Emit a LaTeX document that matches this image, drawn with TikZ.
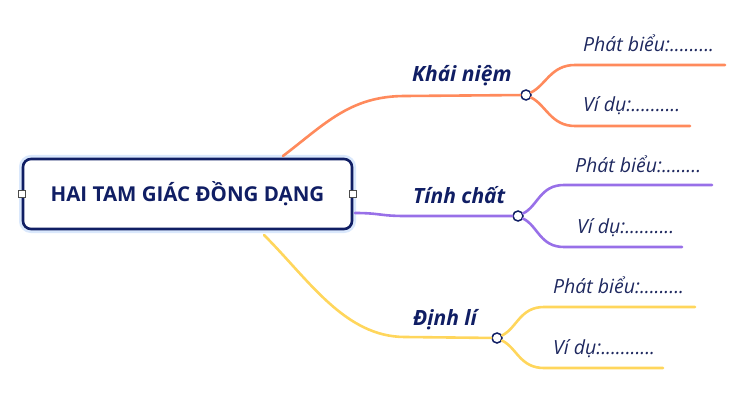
\documentclass[tikz,border=0pt]{standalone}
\usepackage{fontspec}
\setmainfont{Open Sans}
\usetikzlibrary{positioning}
\definecolor{mynavy}{RGB}{16,30,100}
\definecolor{mytext}{RGB}{30,40,95}
\definecolor{myorange}{RGB}{255,138,92}
\definecolor{mypurple}{RGB}{152,112,232}
\definecolor{myyellow}{RGB}{255,214,92}
\definecolor{myglow}{RGB}{218,232,252}

\begin{document}
\begin{tikzpicture}[x=1pt, y=-1pt]
    \tikzstyle{rootbox}=[draw=mynavy, line width=2.6pt, rounded corners=8pt, fill=white, minimum width=329pt, minimum height=70pt, text=mynavy, font=\fontsize{20.5}{24}\selectfont\bfseries, preaction={draw=myglow, line width=8pt}]
    \tikzstyle{handle}=[draw=gray!60!black, fill=white, minimum size=7pt, inner sep=0pt, line width=1pt]
    \tikzstyle{dot}=[circle, draw=mynavy, fill=white, minimum size=10pt, inner sep=0pt, line width=1.5pt]
    \tikzstyle{branch}=[line width=2.6pt, line cap=round]
    \tikzstyle{topic}=[anchor=base west, inner sep=0pt, text=mynavy, font=\fontsize{21}{24}\selectfont\bfseries\itshape]
    \tikzstyle{leaf}=[anchor=base west, inner sep=0pt, text=mytext, font=\fontsize{19.5}{22}\selectfont\itshape]
    \useasboundingbox (0,0) rectangle (755,409);

    % root
    \node[rootbox] (root) at (187.5,194) {HAI TAM GIÁC ĐỒNG DẠNG};
    \node[handle] (hl) at (root.west) {};
    \node[handle] (hr) at (root.east) {};

    % topics
    \node[dot] (kdot) at (526,95) {};
    \node[dot] (tdot) at (518,216) {};
    \node[dot] (ddot) at (497,338) {};
    \node[topic] (kn) at (412,82) {Khái niệm};
    \node[topic] (tc) at (413,203) {Tính chất};
    \node[topic] (dl) at (413,325) {Định lí};

    % leaves
    \node[leaf] (kpb) at (583,52) {Phát biểu:.........};
    \node[leaf] (kvd) at (583,112) {Ví dụ:..........};
    \node[leaf] (tpb) at (575,172) {Phát biểu:........};
    \node[leaf] (tvd) at (577,233) {Ví dụ:..........};
    \node[leaf] (dpb) at (553,293) {Phát biểu:.........};
    \node[leaf] (dvd) at (553,354) {Ví dụ:...........};

    % khai niem
    \coordinate (k0) at (283,156);
    \coordinate (k1) at (405,96);
    \coordinate (ka) at (575,65);  \coordinate (kae) at (725,65);
    \coordinate (kb) at (575,126); \coordinate (kbe) at (690,126);
    \draw[branch, myorange] (k0) .. controls +(42,-32) and +(-55,0) .. (k1) -- (kdot);
    \draw[branch, myorange] (kdot) .. controls +(20,-10) and +(-24,0) .. (ka) -- (kae);
    \draw[branch, myorange] (kdot) .. controls +(20,10) and +(-24,0) .. (kb) -- (kbe);

    % tinh chat
    \coordinate (t0) at (355,213);
    \coordinate (t1) at (405,216);
    \coordinate (ta) at (564,185); \coordinate (tae) at (712,185);
    \coordinate (tb) at (564,247); \coordinate (tbe) at (682,247);
    \draw[branch, mypurple] (t0) .. controls +(25,0) and +(-25,0) .. (t1) -- (tdot);
    \draw[branch, mypurple] (tdot) .. controls +(20,-10) and +(-24,0) .. (ta) -- (tae);
    \draw[branch, mypurple] (tdot) .. controls +(20,10) and +(-24,0) .. (tb) -- (tbe);

    % dinh li
    \coordinate (d0) at (264,235);
    \coordinate (d1) at (405,337);
    \coordinate (da) at (544,307); \coordinate (dae) at (695,307);
    \coordinate (db) at (544,368); \coordinate (dbe) at (663,368);
    \draw[branch, myyellow] (d0) .. controls +(45,45) and +(-60,0) .. (d1) -- (ddot);
    \draw[branch, myyellow] (ddot) .. controls +(20,-10) and +(-24,0) .. (da) -- (dae);
    \draw[branch, myyellow] (ddot) .. controls +(20,10) and +(-24,0) .. (db) -- (dbe);
  \end{tikzpicture}
\end{document}
